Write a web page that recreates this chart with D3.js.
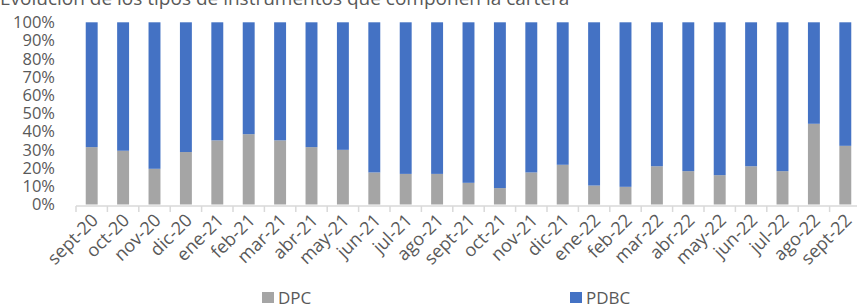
<!DOCTYPE html>
<html>
<head>
<meta charset="utf-8">
<script src="https://cdn.jsdelivr.net/npm/d3@7"></script>
<style>
  body { margin: 0; background: #fff; }
  svg { display: block; font-family: "Open Sans", sans-serif; }
</style>
</head>
<body>
<div id="chart"></div>
<script>
const months = ["sept-20","oct-20","nov-20","dic-20","ene-21","feb-21","mar-21","abr-21","may-21","jun-21","jul-21","ago-21",
  "sept-21","oct-21","nov-21","dic-21","ene-22","feb-22","mar-22","abr-22","may-22","jun-22","jul-22","ago-22","sept-22"];
const dpc = [31.5,29.5,19.6,28.8,35.2,38.6,35.2,31.5,30.0,17.6,16.8,16.8,
  11.9,9.0,17.6,21.8,10.4,9.7,21.0,18.3,16.1,21.0,18.3,44.3,32.2];
const pdbc = dpc.map(v => 100 - v);
const yTicks = [0,10,20,30,40,50,60,70,80,90,100];
const seriesNames = ["DPC", "PDBC"];
const colors = { DPC: "#A5A5A5", PDBC: "#4472C4" };
const title = "Evolución de los tipos de instrumentos que componen la cartera";

const W = 857, H = 306;
const svg = d3.select("#chart").append("svg")
  .attr("width", W).attr("height", H);

// chart is cropped on the right in the original
const x = d3.scaleBand()
  .domain(months)
  .range([76, 861])
  .paddingInner(0.62)
  .paddingOuter(0.31);

const y = d3.scaleLinear()
  .domain([0, 100])
  .range([204.5, 22.3]);

const rows = months.map((m, i) => ({ month: m, DPC: dpc[i], PDBC: pdbc[i] }));
const stacked = d3.stack().keys(seriesNames)(rows);

// title (partly cut off at top)
svg.append("text")
  .attr("x", 0)
  .attr("y", 5)
  .style("font-size", "19px")
  .style("fill", "#595959")
  .text(title);

// bars
svg.selectAll("g.series")
  .data(stacked)
  .join("g")
  .attr("class", "series")
  .attr("fill", d => colors[d.key])
  .selectAll("rect")
  .data(d => d)
  .join("rect")
  .attr("x", d => x(d.data.month))
  .attr("width", x.bandwidth())
  .attr("y", d => y(d[1]))
  .attr("height", d => y(d[0]) - y(d[1]));

// y axis labels
svg.append("g")
  .attr("transform", "translate(55,0)")
  .call(d3.axisLeft(y).tickValues(yTicks).tickFormat(d => d + "%").tickSize(0).tickPadding(0))
  .call(g => g.select(".domain").remove())
  .selectAll(".tick text")
  .style("font-size", "16.5px")
  .style("font-family", "'Open Sans', sans-serif")
  .attr("fill", "#595959");

// x axis line and ticks between categories
const xAxis = svg.append("g");
xAxis.append("line")
  .attr("x1", x.range()[0]).attr("x2", x.range()[1])
  .attr("y1", 206).attr("y2", 206)
  .attr("stroke", "#D9D9D9").attr("stroke-width", 1.5);
xAxis.selectAll("line.tk")
  .data(d3.range(months.length + 1))
  .join("line")
  .attr("class", "tk")
  .attr("x1", i => x.range()[0] + i * x.step())
  .attr("x2", i => x.range()[0] + i * x.step())
  .attr("y1", 206).attr("y2", 212)
  .attr("stroke", "#D9D9D9").attr("stroke-width", 1.5);

xAxis.selectAll("text")
  .data(months)
  .join("text")
  .attr("transform", d => `translate(${x(d) + x.bandwidth() / 2 + 3},${217}) rotate(-45)`)
  .attr("text-anchor", "end")
  .attr("dy", "0.35em")
  .style("font-size", "18px")
  .attr("fill", "#595959")
  .text(d => d);

// legend
const legendPos = [{ key: "DPC", x: 262 }, { key: "PDBC", x: 570 }];
const legend = svg.selectAll("g.legend")
  .data(legendPos)
  .join("g")
  .attr("class", "legend")
  .attr("transform", d => `translate(${d.x},292)`);
legend.append("rect")
  .attr("width", 12).attr("height", 11)
  .attr("fill", d => colors[d.key]);
legend.append("text")
  .attr("x", 16).attr("y", 6)
  .attr("dy", "0.35em")
  .style("font-size", "17px")
  .attr("fill", "#595959")
  .text(d => d.key);
</script>
</body>
</html>
